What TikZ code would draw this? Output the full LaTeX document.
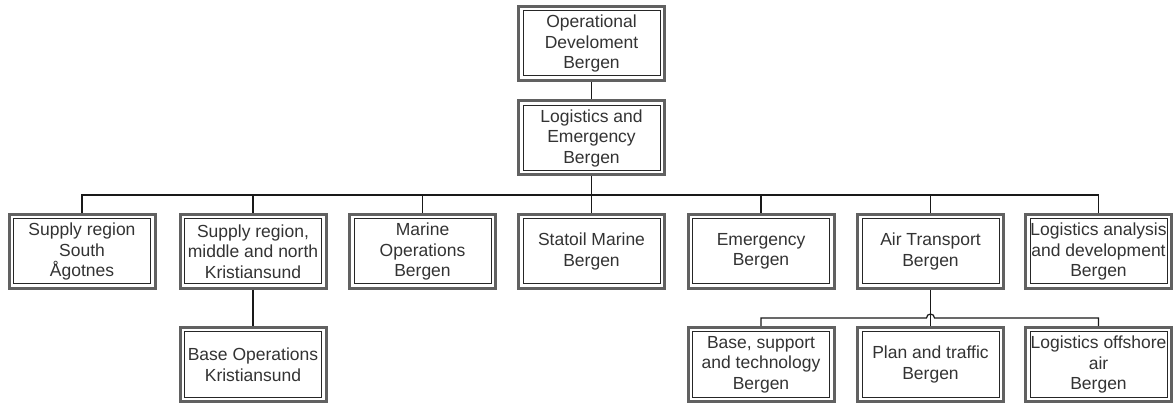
\documentclass[tikz,border=0pt]{standalone}
\usepackage{fontspec}
\setmainfont{Liberation Sans}
\begin{document}
\begin{tikzpicture}[x=1pt,y=-1pt,
  orgbox/.style={draw=black!62, line width=3pt, fill=white,
    minimum width=146pt, minimum height=74pt, inner sep=0pt,
    align=center, text=black!80,
    font=\fontsize{17.5}{20.5}\selectfont,
    path picture={\draw[black!85, line width=1pt]
      ([shift={(4.5pt,4.5pt)}]path picture bounding box.south west) rectangle
      ([shift={(-4.5pt,-4.5pt)}]path picture bounding box.north east);}},
  link/.style={draw=black!90, line width=1.2pt}]
\useasboundingbox (0,0) rectangle (1173,403);
\fill[white] (0,0) rectangle (1173,403);

% top of the hierarchy
\node[orgbox] (opdev) at (591.5,43.5) {Operational\\Develoment\\Bergen};
\node[orgbox] (logem) at (591.5,138) {Logistics and\\Emergency\\Bergen};

% second level
\node[orgbox] (c1) at (82,251.5)   {Supply region\\South\\Ågotnes};
\node[orgbox] (c2) at (253,251.5)  {Supply region,\\middle and north\\Kristiansund};
\node[orgbox] (c3) at (422.5,251.5) {Marine\\Operations\\Bergen};
\node[orgbox] (c4) at (591.5,251.5) {Statoil Marine\\Bergen};
\node[orgbox] (c5) at (761,251.5)  {Emergency\\Bergen};
\node[orgbox] (c6) at (930.5,251.5) {Air Transport\\Bergen};
\node[orgbox] (c7) at (1098.5,251.5) {Logistics analysis\\and development\\Bergen};

% third level
\node[orgbox] (d1) at (253,364.5)  {Base Operations\\Kristiansund};
\node[orgbox] (a1) at (761,364.5)  {Base, support\\and technology\\Bergen};
\node[orgbox] (a2) at (930.5,364.5) {Plan and traffic\\Bergen};
\node[orgbox] (a3) at (1098.5,364.5) {Logistics offshore\\air\\Bergen};

% connectors
\coordinate (bus) at (591.5,195);
\coordinate (jl) at (926.5,318);
\draw[link] (opdev.south) -- (logem.north);
\draw[link] (logem.south) -- (bus);
\draw[link] (c1.north) |- (bus) -| (c7.north);
\foreach \n in {c2,c3,c4,c5,c6} \draw[link] (\n.north) -- (\n.north |- bus);
\draw[link] (c2.south) -- (d1.north);
\draw[link] (c6.south) -- (a2.north);
% the lower bus hops over the Air Transport line
\draw[link] (a1.north) |- (jl) arc[start angle=180, end angle=360, radius=4] -| (a3.north);
\end{tikzpicture}
\end{document}
